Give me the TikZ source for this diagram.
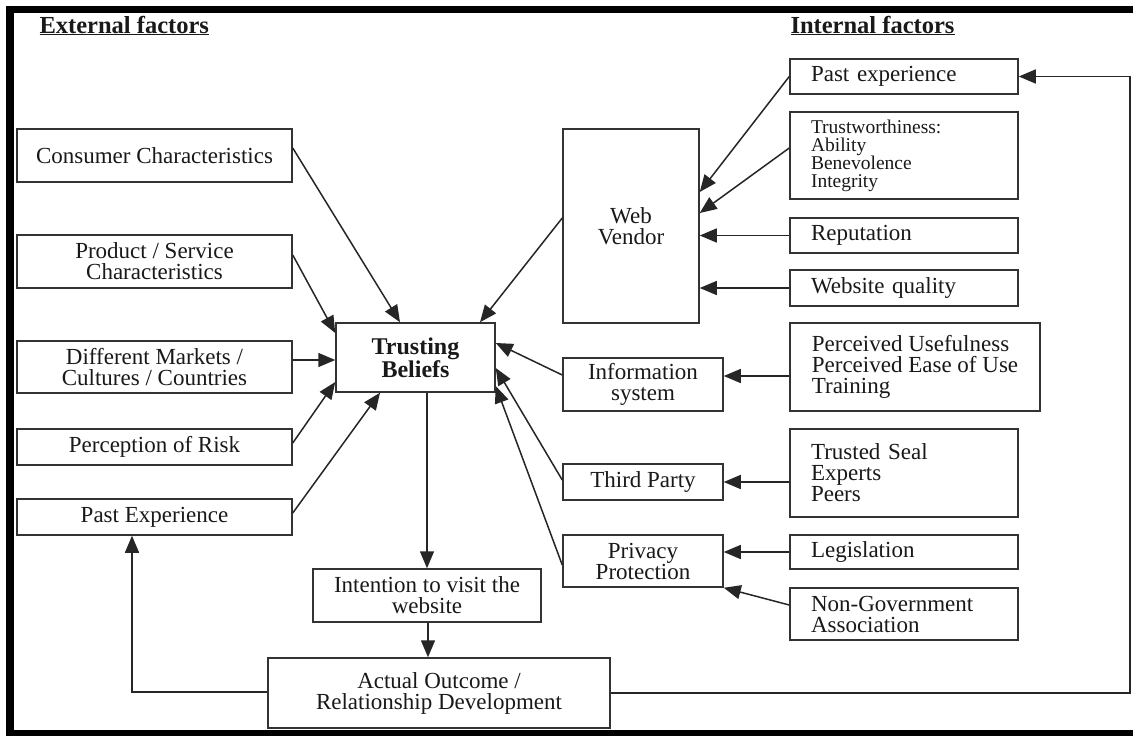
\documentclass[tikz,border=0pt]{standalone}
\usepackage{fontspec}
\setmainfont{Liberation Serif}
\usetikzlibrary{arrows.meta,calc}

\begin{document}
\begin{tikzpicture}[x=1pt,y=-1pt,
  box/.style={draw=black!80, line width=1.5pt, inner sep=0pt, align=center,
    font=\fontsize{23}{21}\selectfont, text=black!90},
  lbox/.style={box, align=left, inner xsep=21pt, text width=186pt, minimum width=228pt},
  heading/.style={anchor=base west, font=\fontsize{24.5}{26}\selectfont\bfseries, text=black!90},
  arr/.style={draw=black!85, line width=1.5pt, -{Triangle[length=17pt,width=14pt]}},
  ln/.style={draw=black!85, line width=1.5pt}
]
\useasboundingbox (0,0) rectangle (1133,736);
\fill[white] (0,0) rectangle (1133,736);

% heavy frame
\fill[black] (6,6) rectangle (1133,13);
\fill[black] (6,6) rectangle (14,736);
\fill[black] (6,730) rectangle (1133,736);

% headings
\node[heading] (ext) at (36,33) {\underline{External factors}};
\node[heading] (int) at (787,33) {\underline{Internal factors}};

% external factors
\node[box, minimum width=275pt, minimum height=53pt] (cons) at (154.5,155.5) {Consumer Characteristics};
\node[box, minimum width=275pt, minimum height=53pt] (prod) at (154.5,261.5) {Product / Service\\Characteristics};
\node[box, minimum width=275pt, minimum height=52pt] (mark) at (154.5,367) {Different Markets /\\Cultures / Countries};
\node[box, minimum width=275pt, minimum height=36pt] (risk) at (154.5,447) {Perception of Risk};
\node[box, minimum width=275pt, minimum height=36pt] (pastL) at (154.5,517) {Past Experience};

% centre column
\node[box, minimum width=159pt, minimum height=69pt, font=\fontsize{24}{22}\selectfont\bfseries] (tb) at (415.5,357.5) {Trusting\\Beliefs};
\node[box, minimum width=228pt, minimum height=53pt] (intent) at (427,595.5) {Intention to visit the\\website};
\node[box, minimum width=342pt, minimum height=70pt] (actual) at (439,693) {Actual Outcome /\\Relationship Development};

% intermediate column
\node[box, minimum width=136pt, minimum height=194pt] (web) at (631,226) {Web\\Vendor};
\node[box, minimum width=160pt, minimum height=53pt] (info) at (643,384.5) {Information\\system};
\node[box, minimum width=160pt, minimum height=36pt] (third) at (643,482) {Third Party};
\node[box, minimum width=160pt, minimum height=52pt] (priv) at (643,561) {Privacy\\Protection};

% internal factors
\node[lbox, minimum height=35pt] (pastR) at (904,76.5) {Past experience};
\node[lbox, minimum height=87pt, font=\fontsize{19.5}{18}\selectfont] (trust) at (904,155.5) {Trustworthiness:\\Ability\\Benevolence\\Integrity};
\node[lbox, minimum height=35pt] (rep) at (904,235.5) {Reputation};
\node[lbox, minimum height=36pt] (wsq) at (904,288) {Website quality};
\node[box, align=left, minimum width=250pt, minimum height=88pt] (perc) at (915,367) {Perceived Usefulness\\Perceived Ease of Use\\Training};
\node[lbox, minimum height=88pt] (seal) at (904,473) {Trusted Seal\\Experts\\Peers};
\node[lbox, minimum height=34pt] (legis) at (904,552) {Legislation};
\node[lbox, minimum height=52pt] (ngo) at (904,614) {Non-Government\\Association};

% influences on trusting beliefs
\draw[arr] (cons.east |- 0,148) -- (400,0 |- tb.north);
\draw[arr] (prod.east |- 0,255) -- (tb.west |- 0,333);
\draw[arr] (mark.east |- 0,360) -- (tb.west |- 0,360);
\draw[arr] (risk.east |- 0,443) -- (tb.west |- 0,382);
\draw[arr] (pastL.east |- 0,513) -- (380,0 |- tb.south);
\draw[arr] (web.west |- 0,218) -- (480,0 |- tb.north);
\draw[arr] (info.west |- 0,375) -- (tb.east |- 0,343);
\draw[arr] (third.west |- 0,480) -- (tb.east |- 0,368);
\draw[arr] (priv.west |- 0,565) -- (tb.east |- 0,386);

% influences on the web vendor
\draw[arr] (pastR.west) -- (web.east |- 0,192);
\draw[arr] (trust.west |- 0,148) -- (web.east |- 0,213);
\draw[arr] (rep.west) -- (web.east |- rep.west);
\draw[arr] (wsq.west) -- (web.east |- wsq.west);

% sources for the other intermediaries
\draw[arr] (perc.west |- 0,376) -- (info.east |- 0,376);
\draw[arr] (seal.west |- third.east) -- (third.east);
\draw[arr] (legis.west) -- (priv.east |- legis.west);
\draw[arr] (ngo.west |- 0,605) -- (priv.south east);

% outcome chain
\draw[arr] (427,0 |- tb.south) -- (427,0 |- intent.north);
\draw[arr] (428,0 |- intent.south) -- (428,0 |- actual.north);

% feedback loops
\draw[arr] (actual.west |- 0,692) -| (132,0 |- pastL.south);
\draw[arr] (actual.east) -| (1130,0 |- pastR.east) -- (pastR.east);

\end{tikzpicture}
\end{document}
